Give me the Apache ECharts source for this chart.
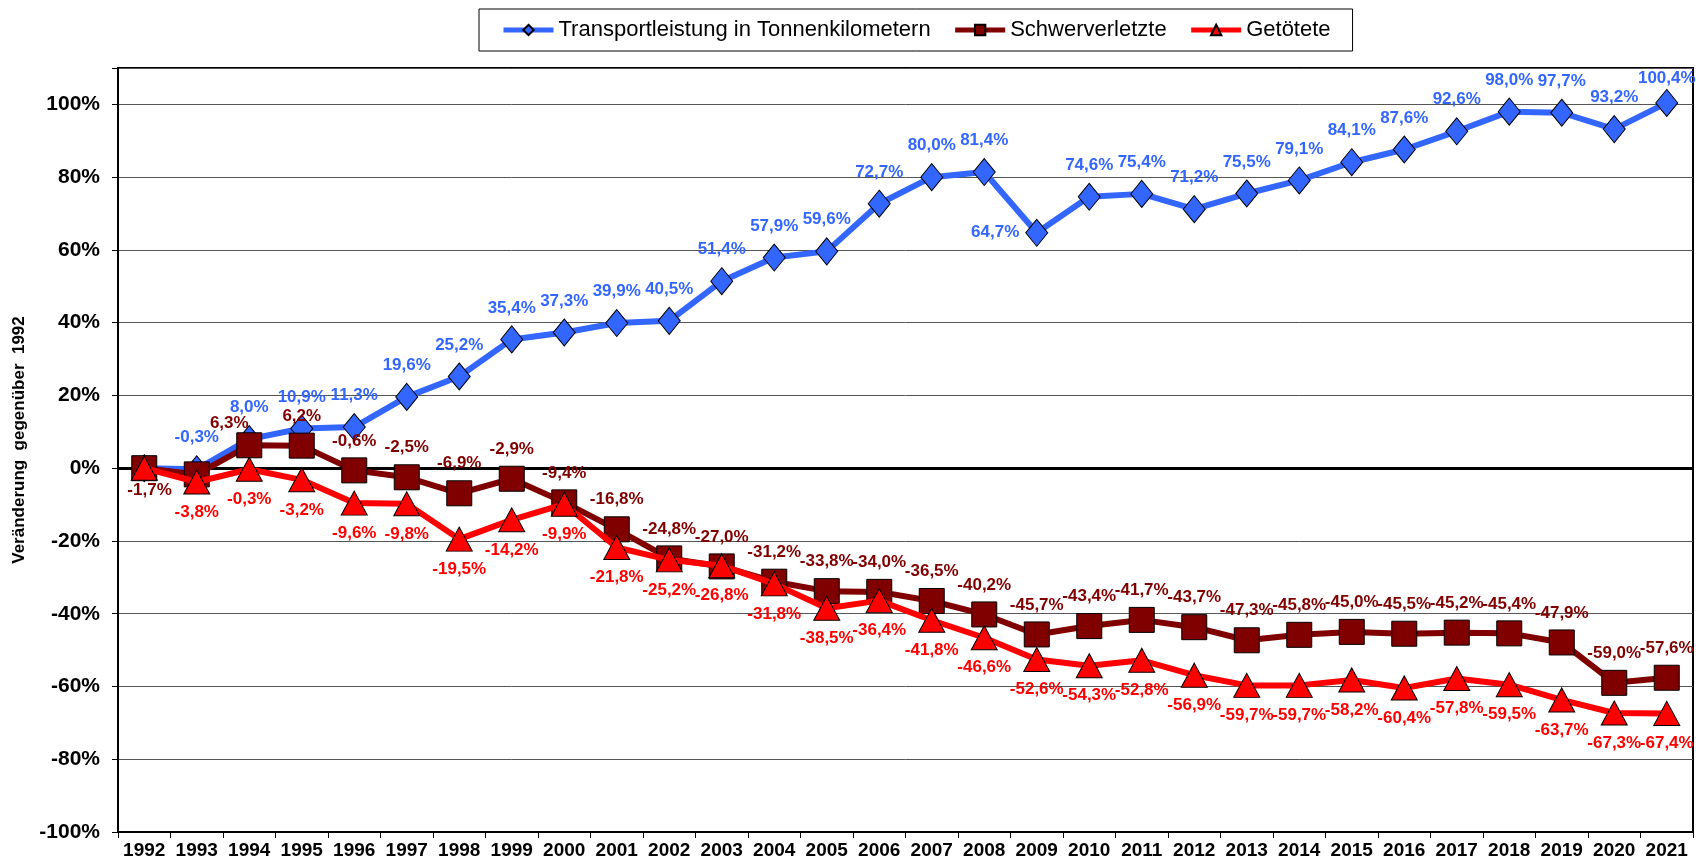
<!DOCTYPE html>
<html><head><meta charset="utf-8">
<script src="https://cdn.jsdelivr.net/npm/echarts@6/dist/echarts.min.js"></script>
<style>html,body{margin:0;padding:0;background:#fff}#c{width:1696px;height:863px}</style>
</head><body><div id="c"></div>
<script>
const years = ['1992','1993','1994','1995','1996','1997','1998','1999','2000','2001','2002','2003','2004','2005','2006','2007','2008','2009','2010','2011','2012','2013','2014','2015','2016','2017','2018','2019','2020','2021'];
const transport = [0, -0.3, 8.0, 10.9, 11.3, 19.6, 25.2, 35.4, 37.3, 39.9, 40.5, 51.4, 57.9, 59.6, 72.7, 80.0, 81.4, 64.7, 74.6, 75.4, 71.2, 75.5, 79.1, 84.1, 87.6, 92.6, 98.0, 97.7, 93.2, 100.4];
const schwer = [0, -1.7, 6.3, 6.2, -0.6, -2.5, -6.9, -2.9, -9.4, -16.8, -24.8, -27.0, -31.2, -33.8, -34.0, -36.5, -40.2, -45.7, -43.4, -41.7, -43.7, -47.3, -45.8, -45.0, -45.5, -45.2, -45.4, -47.9, -59.0, -57.6];
const getoetet = [0, -3.8, -0.3, -3.2, -9.6, -9.8, -19.5, -14.2, -9.9, -21.8, -25.2, -26.8, -31.8, -38.5, -36.4, -41.8, -46.6, -52.6, -54.3, -52.8, -56.9, -59.7, -59.7, -58.2, -60.4, -57.8, -59.5, -63.7, -67.3, -67.4];
const seriesNames = ['Transportleistung in Tonnenkilometern', 'Schwerverletzte', 'Getötete'];
const yAxisTitle = 'Veränderung  gegenüber  1992';

const FONT = "'Liberation Sans', Arial, Helvetica, sans-serif";
const fmt = v => v.toFixed(1).replace('.', ',') + '%';

function build(values, overrides) {
  return values.map((v, i) => {
    const d = { value: v };
    if (i === 0) d.label = { show: false };
    else if (overrides[i]) d.label = overrides[i];
    return d;
  });
}

const labelBase = (color, pos, dist) => ({
  show: true, position: pos, distance: dist, color: color,
  fontFamily: FONT, fontWeight: 'bold', fontSize: 17,
  formatter: p => fmt(p.value)
});

const chart = echarts.init(document.getElementById('c'), null, { renderer: 'canvas' });
chart.setOption({
  animation: false,
  backgroundColor: '#fff',
  textStyle: { fontFamily: FONT },
  legend: {
    left: 479, top: 9,
    padding: [10, 22, 10, 22],
    itemWidth: 50, itemHeight: 13, itemGap: 22,
    borderColor: '#000', borderWidth: 1,
    lineStyle: { width: 5 },
    textStyle: { fontFamily: FONT, fontSize: 22, color: '#000' },
    data: seriesNames
  },
  grid: { left: 118, right: 3, top: 68, bottom: 31, show: true, borderColor: '#000', borderWidth: 2, containLabel: false },
  xAxis: {
    type: 'category', data: years, boundaryGap: true,
    axisLine: { onZero: false, lineStyle: { color: '#000', width: 2 } },
    axisTick: { show: true, length: 6, lineStyle: { color: '#000', width: 1 } },
    axisLabel: { interval: 0, margin: 9, color: '#000', fontFamily: FONT, fontWeight: 'bold', fontSize: 19 }
  },
  yAxis: {
    type: 'value', min: -100, max: 110, interval: 20,
    axisLine: { show: true, lineStyle: { color: '#000', width: 2 } },
    axisTick: { show: true, length: 6, lineStyle: { color: '#000', width: 1 } },
    splitLine: { show: true, lineStyle: { color: '#555', width: 1 } },
    axisLabel: { margin: 18, color: '#000', fontFamily: FONT, fontWeight: 'bold', fontSize: 21,
      formatter: v => (v > 100 ? '' : v + '%') }
  },
  graphic: [{
    type: 'text', x: 19, y: 440, rotation: Math.PI / 2,
    style: { text: yAxisTitle, fontFamily: FONT, fontWeight: 'bold', fontSize: 17, fill: '#000', textAlign: 'center', textVerticalAlign: 'middle' }
  }],
  series: [
    {
      name: seriesNames[0], type: 'line',
      data: build(transport, { 17: { position: 'left', distance: 6 }, 29: { position: 'top', distance: 2 } }),
      symbol: 'diamond', symbolSize: [22, 27],
      lineStyle: { color: '#3366FF', width: 6 },
      itemStyle: { color: '#3366FF', borderColor: '#000', borderWidth: 1 },
      label: labelBase('#3366FF', 'top', 9),
      z: 2,
      markLine: { silent: true, symbol: ['none', 'none'], label: { show: false },
        lineStyle: { color: '#000', width: 3, type: 'solid' }, data: [{ yAxis: 0 }], z: 1 }
    },
    {
      name: seriesNames[1], type: 'line',
      data: build(schwer, { 1: { position: 'left', offset: [-4, 16] }, 2: { position: 'top', offset: [-20, 8] } }),
      symbol: 'rect', symbolSize: 25,
      lineStyle: { color: '#800000', width: 6 },
      itemStyle: { color: '#800000', borderColor: '#000', borderWidth: 1 },
      label: labelBase('#800000', 'top', 8),
      z: 3
    },
    {
      name: seriesNames[2], type: 'line', data: build(getoetet, {}),
      symbol: 'triangle', symbolSize: [26, 24],
      lineStyle: { color: '#FF0000', width: 6 },
      itemStyle: { color: '#FF0000', borderColor: '#000', borderWidth: 1 },
      label: labelBase('#FF0000', 'bottom', 9),
      z: 4
    }
  ]
});
</script>
</body></html>
